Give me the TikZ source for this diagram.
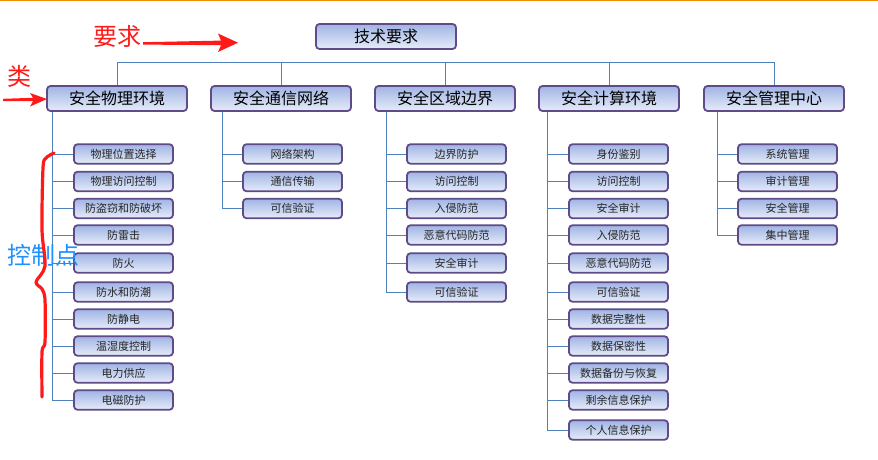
\documentclass[tikz,border=0pt]{standalone}
\usepackage{fontspec}
\setmainfont{Noto Sans CJK SC}
\usetikzlibrary{calc,shadings}
\definecolor{boxedge}{HTML}{5F4B87}
\definecolor{boxtop}{HTML}{A0B4E4}
\definecolor{boxbot}{HTML}{E6ECF9}
\definecolor{connc}{HTML}{4F81BD}
\definecolor{annred}{HTML}{FF1A1A}
\definecolor{annblue}{HTML}{1E90FF}
\definecolor{topline}{HTML}{F08C00}
\begin{document}
\begin{tikzpicture}[x=1pt,y=-1pt,
  box/.style={draw=boxedge, line width=1.8pt, rounded corners=3.5pt, top color=boxtop, bottom color=boxbot, inner sep=0pt},
  bigbox/.style={box, minimum width=140pt, minimum height=25pt, font=\fontsize{16}{16}\selectfont},
  leaf/.style={box, minimum width=99pt, minimum height=19.5pt, font=\fontsize{11}{11}\selectfont, text=black!85},
  link/.style={draw=connc, line width=0.9pt},
  ann/.style={inner sep=0pt, font=\fontsize{24}{24}\selectfont}]
\useasboundingbox (0,0) rectangle (878,460);
\fill[white] (0,0) rectangle (878,460);
\draw[topline, line width=1.4pt] (0,0.7) -- (878,0.7);

% top level
\node[bigbox] (root) at (386,36.5) {技术要求};
\node[bigbox] (c1) at (117,98.5) {安全物理环境};
\node[bigbox] (c2) at (281,98.5) {安全通信网络};
\node[bigbox] (c3) at (445,98.5) {安全区域边界};
\node[bigbox] (c4) at (609,98.5) {安全计算环境};
\node[bigbox] (c5) at (774,98.5) {安全管理中心};

% bus
\coordinate (bus) at (0,62);
\draw[link] (c1.north) -- (c1.north |- bus) -- (c5.north |- bus) -- (c5.north);
\foreach \c in {c2,c3,c4} \draw[link] (\c.north) -- (\c.north |- bus);

% leaves of c1
\foreach \y/\t [count=\i] in {154/物理位置选择,181.5/物理访问控制,208.5/防盗窃和防破坏,235/防雷击,263/防火,292/防水和防潮,319/防静电,346/温湿度控制,373/电力供应,400/电磁防护}{
  \node[leaf] (a\i) at (123.5,\y) {\t};
  \draw[link] ([xshift=6pt]c1.south west) |- (a\i.west);
}
% leaves of c2
\foreach \y/\t [count=\i] in {154/网络架构,181.5/通信传输,208.5/可信验证}{
  \node[leaf] (b\i) at (292.5,\y) {\t};
  \draw[link] ([xshift=12pt]c2.south west) |- (b\i.west);
}
% leaves of c3
\foreach \y/\t [count=\i] in {154/边界防护,181.5/访问控制,208.5/入侵防范,235/恶意代码防范,263/安全审计,292/可信验证}{
  \node[leaf] (d\i) at (456.5,\y) {\t};
  \draw[link] ([xshift=12pt]c3.south west) |- (d\i.west);
}
% leaves of c4
\foreach \y/\t [count=\i] in {154/身份鉴别,181.5/访问控制,208.5/安全审计,235/入侵防范,263/恶意代码防范,292/可信验证,319/数据完整性,346/数据保密性,373/数据备份与恢复,400/剩余信息保护,430/个人信息保护}{
  \node[leaf] (e\i) at (618.5,\y) {\t};
  \draw[link] ([xshift=9pt]c4.south west) |- (e\i.west);
}
% leaves of c5
\foreach \y/\t [count=\i] in {154/系统管理,181.5/审计管理,208.5/安全管理,235/集中管理}{
  \node[leaf] (f\i) at (787.5,\y) {\t};
  \draw[link] ([xshift=14pt]c5.south west) |- (f\i.west);
}

% annotations
\node[ann, text=annred] (yq) at (117.5,36) {要求};
\node[ann, text=annred] (lei) at (19,76.5) {类};
\node[ann, text=annblue] (kzd) at (43.5,255) {控制点};
\fill[annred] (143,42.2) -- (221,40.6) -- (218,33.5) -- (238,42.7) -- (218,52) -- (221,45.2) -- (143,44.6) -- cycle;
\fill[annred] (3,98.8) -- (33,97.8) -- (30,93) -- (47,99) -- (30,106.5) -- (33,101.2) -- (3,101.2) -- cycle;
\draw[annred, line width=3.2pt, line cap=round, line join=round]
  plot[smooth, tension=0.5] coordinates {(54,153) (46,158) (43,168) (42,230) (45,266) (36,282) (42,289) (45,300) (45,342) (42,352) (42,397)};
\end{tikzpicture}
\end{document}
